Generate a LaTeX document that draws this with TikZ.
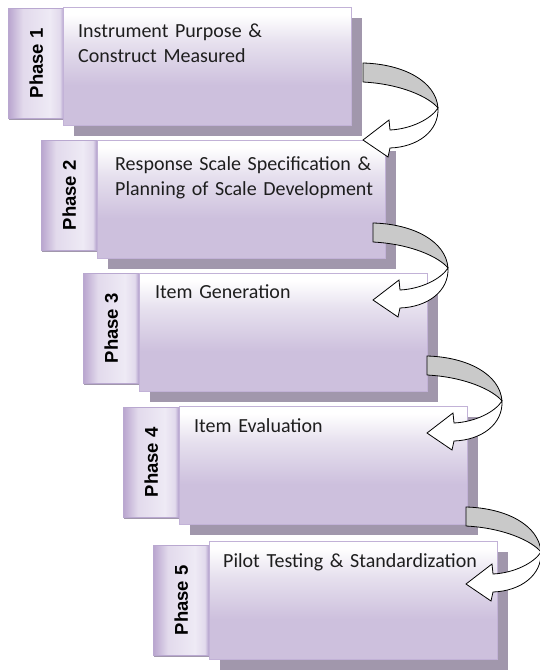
\documentclass[tikz,border=0pt]{standalone}
\usepackage{fontspec}
\setmainfont{Carlito}[WordSpace=0.8]
\newfontfamily\tabfont{Liberation Sans}
\usetikzlibrary{shadows}
\definecolor{boxbot}{HTML}{CDC0DD}
\definecolor{boxmid}{HTML}{E6E0EE}
\definecolor{boxline}{HTML}{C2B2D7}
\definecolor{shadowc}{HTML}{A197AC}
\definecolor{tabA}{HTML}{B9A5CF}
\definecolor{tabB}{HTML}{E2DAEC}
\definecolor{tabC}{HTML}{EEEAF5}
\definecolor{tabD}{HTML}{AD99C8}
\definecolor{arrowgray}{HTML}{C9C9C9}
\definecolor{txt}{HTML}{1E1E1E}
\pgfdeclareverticalshading{boxshade}{100bp}{color(0bp)=(boxbot); color(25bp)=(boxbot); color(42bp)=(boxbot); color(60bp)=(boxmid); color(72bp)=(white); color(100bp)=(white)}
\pgfdeclarehorizontalshading{tabshade}{100bp}{color(0bp)=(tabA); color(25bp)=(tabA); color(38bp)=(tabB); color(62bp)=(tabC); color(71bp)=(tabB); color(75bp)=(tabD); color(100bp)=(tabD)}
\tikzset{
  curvarrow/.pic={
    \filldraw[fill=arrowgray, draw=black, line width=0.8pt, line join=round]
      (0,0) .. controls (40,1) and (73,18) .. (75,45)
      .. controls (66,34) and (38,21) .. (0,19) -- cycle;
    \filldraw[fill=white, draw=black, line width=0.8pt, line join=miter]
      (75,45) .. controls (68,56) and (48,66) .. (27,67) -- (26,57) -- (0,77)
      -- (25,94) -- (27,85) .. controls (55,84) and (76,68) .. (75,45) -- cycle;
  }
}
\begin{document}
\begin{tikzpicture}[x=1pt,y=-1pt,
  mainbox/.style={draw=boxline, line width=0.8pt, shading=boxshade,
    minimum width=288pt, minimum height=118pt, inner sep=0pt, anchor=north west,
    drop shadow={shadow xshift=11pt, shadow yshift=-11pt, fill=shadowc, opacity=1}},
  tabbox/.style={draw=tabD!85, line width=0.6pt, shading=tabshade,
    minimum width=56pt, minimum height=110pt, inner sep=0pt, anchor=north west,
    drop shadow={shadow xshift=1pt, shadow yshift=-2pt, fill=shadowc, opacity=1}},
  tablabel/.style={rotate=90, font=\tabfont\bfseries\fontsize{18.5}{20}\selectfont,
    text=black, inner sep=0pt},
  phasetext/.style={anchor=base west, inner sep=0pt, text width=280pt, align=left,
    font=\fontsize{20}{25}\selectfont, text=txt}
]
\useasboundingbox (0,0) rectangle (540,670);

% Phase 1
\node[tabbox] (t1) at (8,8) {};
\node[mainbox] (b1) at (63,7) {};
\node[tablabel] (l1) at (t1.center) {Phase 1};
\node[phasetext] (p1) at (78,37) {Instrument Purpose \&\\Construct Measured};

% Phase 2
\node[tabbox] (t2) at (41,140) {};
\node[mainbox] (b2) at (97,140) {};
\node[tablabel] (l2) at (t2.center) {Phase 2};
\node[phasetext] (p2) at (115,170) {Response Scale Specification \&\\Planning of Scale Development};

% Phase 3
\node[tabbox] (t3) at (83,273) {};
\node[mainbox] (b3) at (139,273) {};
\node[tablabel] (l3) at (t3.center) {Phase 3};
\node[phasetext] (p3) at (155,298) {Item Generation};

% Phase 4
\node[tabbox] (t4) at (123,407) {};
\node[mainbox] (b4) at (179,406) {};
\node[tablabel] (l4) at (t4.center) {Phase 4};
\node[phasetext] (p4) at (194,432) {Item Evaluation};

% Phase 5
\node[tabbox] (t5) at (153,545) {};
\node[mainbox] (b5) at (209,541) {};
\node[tablabel] (l5) at (t5.center) {Phase 5};
\node[phasetext] (p5) at (223,567) {Pilot Testing \& Standardization};

% curved arrows
\coordinate (a1) at (363,63);
\coordinate (a2) at (373,223);
\coordinate (a3) at (427,356);
\coordinate (a4) at (466,507);
\pic at (a1) {curvarrow};
\pic at (a2) {curvarrow};
\pic at (a3) {curvarrow};
\pic at (a4) {curvarrow};
\end{tikzpicture}
\end{document}
